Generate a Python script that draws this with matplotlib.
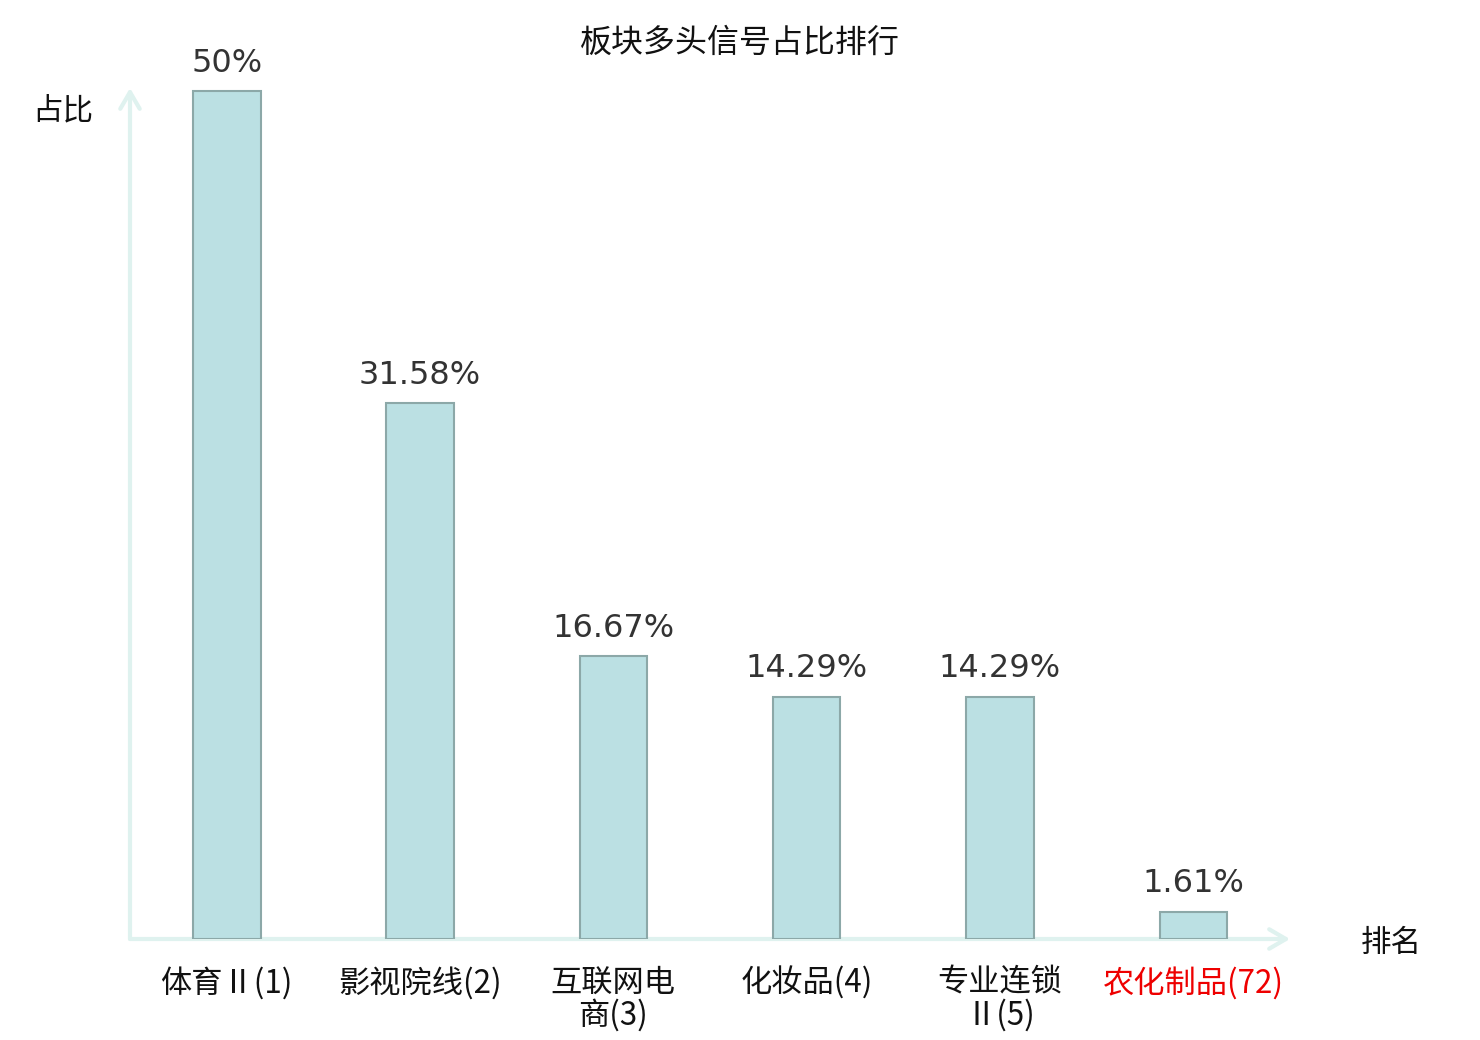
import matplotlib
matplotlib.use("Agg")
import matplotlib.pyplot as plt

plt.rcParams['font.family'] = ['Noto Sans CJK SC', 'DejaVu Sans']

categories = ["体育Ⅱ(1)", "影视院线(2)", "互联网电\n商(3)", "化妆品(4)", "专业连锁\nⅡ(5)", "农化制品(72)"]
values = [50, 31.58, 16.67, 14.29, 14.29, 1.61]
value_labels = ["50%", "31.58%", "16.67%", "14.29%", "14.29%", "1.61%"]
label_colors = ["#111111", "#111111", "#111111", "#111111", "#111111", "#ee0000"]

W, H = 1480, 1040
fig = plt.figure(figsize=(W / 100, H / 100), dpi=100)
ax_l, ax_r, ax_b, ax_t = 130, 1290, 939, 88
ax = fig.add_axes([ax_l / W, 1 - ax_b / H, (ax_r - ax_l) / W, (ax_b - ax_t) / H])

x = list(range(len(categories)))
bars = ax.bar(x, values, width=0.35, color="#bbe0e3", edgecolor="#8ca8a8", linewidth=1.5, zorder=3)
ax.set_xlim(-0.5, len(categories) - 0.5)
ax.set_ylim(0, 50 * (ax_b - ax_t) / (ax_b - 91))

for xi, v, lab in zip(x, values, value_labels):
    ax.annotate(lab, (xi, v), xytext=(0, 9), textcoords="offset points",
                ha="center", va="bottom", fontsize=23, color="#333333",
                family=["DejaVu Sans"])

for s in ax.spines.values():
    s.set_visible(False)
ax.set_yticks([])
ax.set_xticks(x)
ax.set_xticklabels(categories, fontsize=22.5, linespacing=1.0)
ax.tick_params(axis="x", length=0, pad=20)
for t, c in zip(ax.get_xticklabels(), label_colors):
    t.set_color(c)

axis_color = "#dff2ef"
arrow_style = "->,head_length=1.2,head_width=0.7"
ax.annotate("", xy=(1.0, 0), xytext=(0, 0), xycoords="axes fraction",
            arrowprops=dict(arrowstyle=arrow_style, color=axis_color, lw=3,
                            shrinkA=0, shrinkB=0), zorder=2)
ax.annotate("", xy=(0, 1.0), xytext=(0, 0), xycoords="axes fraction",
            arrowprops=dict(arrowstyle=arrow_style, color=axis_color, lw=3,
                            shrinkA=0, shrinkB=0), zorder=2)

fig.text(740 / W, 1 - 43 / H, "板块多头信号占比排行", ha="center", va="center", fontsize=23, color="#111111")
fig.text(63 / W, 1 - 111 / H, "占比", ha="center", va="center", fontsize=22, color="#111111")
fig.text(1391 / W, 1 - 943 / H, "排名", ha="center", va="center", fontsize=22, color="#111111")

fig.savefig("out.png", dpi=100)
